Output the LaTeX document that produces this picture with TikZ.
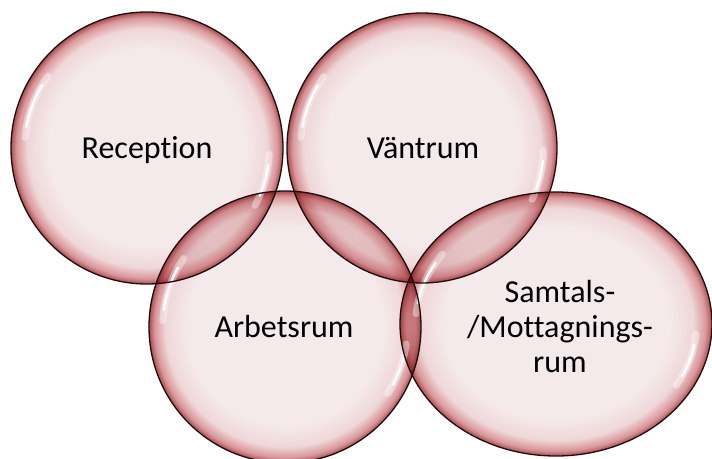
\documentclass[tikz,border=0pt]{standalone}
\usepackage{fontspec}
\setmainfont[Ligatures=NoCommon]{Carlito}
\definecolor{bcen}{HTML}{F5EAEB}
\definecolor{bmid}{HTML}{EFD7D8}
\definecolor{brim}{HTML}{D9969A}
\definecolor{bedge}{HTML}{A84E52}
\definecolor{bline}{HTML}{1E0C0C}
\pgfdeclareradialshading{bubble}{\pgfpoint{0bp}{0bp}}{color(0bp)=(bcen); color(18bp)=(bcen); color(22bp)=(bmid); color(24bp)=(brim); color(25bp)=(bedge); color(50bp)=(bedge)}
\newcommand{\bubblehl}[6]{%
  \draw[hlsoft,shift={(#1,#2)}] (#5:0.9*#3 and 0.9*#4) arc[start angle=#5,end angle=#6,x radius=0.9*#3,y radius=0.9*#4];
  \draw[hlcore,shift={(#1,#2)}] (#5+5:0.9*#3 and 0.9*#4) arc[start angle=#5+5,end angle=#6-5,x radius=0.9*#3,y radius=0.9*#4];
}
\begin{document}
\begin{tikzpicture}[x=1pt,y=-1pt,
  outline/.style={draw=bline,line width=1.3pt},
  hlsoft/.style={white,opacity=0.4,line width=7pt,line cap=round},
  hlcore/.style={white,opacity=0.9,line width=2.5pt,line cap=round},
  lbl/.style={font=\fontsize{32}{35}\selectfont,anchor=base,align=center,inner sep=0pt}]
\useasboundingbox (0,0) rectangle (712,458);
\begin{scope}[blend mode=multiply]
  \shade[shading=bubble] (147,148) circle[radius=136];
  \shade[shading=bubble] (422,148) circle[radius=135];
  \shade[shading=bubble] (285,327) circle[radius=136];
  \shade[shading=bubble] (556,324) ellipse[x radius=156,y radius=132];
\end{scope}
\bubblehl{147}{148}{136}{136}{185}{216}
\bubblehl{147}{148}{136}{136}{3}{28}
\bubblehl{422}{148}{135}{135}{185}{216}
\bubblehl{422}{148}{135}{135}{1}{25}
\bubblehl{285}{327}{136}{136}{183}{214}
\bubblehl{285}{327}{136}{136}{8}{33}
\bubblehl{556}{324}{156}{132}{185}{216}
\bubblehl{556}{324}{156}{132}{5}{31}
\draw[outline] (147,148) circle[radius=136];
\draw[outline] (422,148) circle[radius=135];
\draw[outline] (285,327) circle[radius=136];
\draw[outline] (556,324) ellipse[x radius=156,y radius=132];
\node[lbl] (rec) at (147,158) {Reception};
\node[lbl] (van) at (423,158) {Väntrum};
\node[lbl] (arb) at (284,337) {Arbetsrum};
\node[lbl] (sam) at (560,372) {Samtals-\\/Mottagnings-\\rum};
\end{tikzpicture}
\end{document}
